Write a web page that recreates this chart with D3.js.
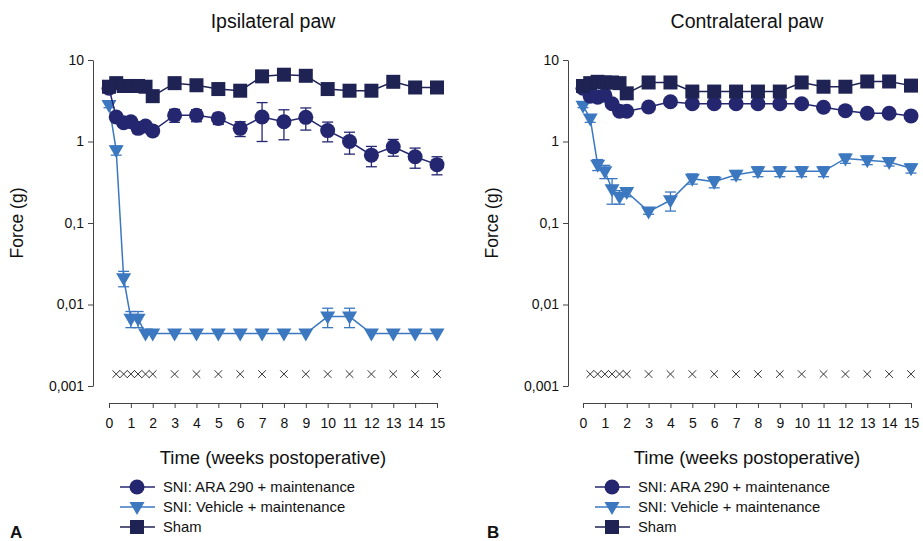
<!DOCTYPE html>
<html>
<head>
<meta charset="utf-8">
<script src="https://cdn.jsdelivr.net/npm/d3@7"></script>
<style>
    body { margin: 0; background: #fff; }
    svg { font-family: Arial, "Liberation Sans", sans-serif; }
</style>
</head>
<body>
<svg id="chart" width="923" height="541"></svg>
<script>
// Time points (weeks postoperative)
const weeks = [0, 0.33, 0.67, 1, 1.33, 1.67, 2, 3, 4, 5, 6, 7, 8, 9, 10, 11, 12, 13, 14, 15];
// weeks with significance marks (x)
const sigWeeks = [0.33, 0.67, 1, 1.33, 1.67, 2, 3, 4, 5, 6, 7, 8, 9, 10, 11, 12, 13, 14, 15];
const sigLevel = 0.0014;

const yTicks = [0.001, 0.01, 0.1, 1, 10];
const yTickLabels = ['0,001', '0,01', '0,1', '1', '10'];
const xTicks = [0, 1, 2, 3, 4, 5, 6, 7, 8, 9, 10, 11, 12, 13, 14, 15];

const seriesNames = ['SNI: ARA 290 + maintenance', 'SNI: Vehicle + maintenance', 'Sham'];

// Ipsilateral paw
const ipsiAra = [4.5, 2.0, 1.7, 1.75, 1.45, 1.55, 1.35, 2.1, 2.1, 1.92, 1.45, 2.0, 1.75, 1.98, 1.36, 1.0, 0.68, 0.86, 0.65, 0.52];
const ipsiAraSem = [0.3, 0.25, 0.2, 0.2, 0.2, 0.2, 0.15, 0.38, 0.35, 0.3, 0.3, 1.0, 0.7, 0.6, 0.37, 0.3, 0.19, 0.2, 0.18, 0.13];
const ipsiVeh = [2.8, 0.78, 0.021, 0.0067, 0.0067, 0.0044, 0.0044, 0.0044, 0.0044, 0.0044, 0.0044, 0.0044, 0.0044, 0.0044, 0.0071, 0.0071, 0.0044, 0.0044, 0.0044, 0.0044];
const ipsiVehSem = [0.2, 0.1, 0.0045, 0.0015, 0.0015, 0, 0, 0, 0, 0, 0, 0, 0, 0, 0.0019, 0.0019, 0, 0, 0, 0];
const ipsiSham = [4.7, 5.2, 4.8, 4.8, 4.8, 4.7, 3.6, 5.2, 4.9, 4.4, 4.2, 6.3, 6.6, 6.4, 4.4, 4.2, 4.2, 5.4, 4.6, 4.6];
const ipsiShamSem = [0.3, 0.3, 0.3, 0.3, 0.3, 0.3, 0.3, 0.3, 0.3, 0.3, 0.3, 0.3, 0.3, 0.3, 0.3, 0.3, 0.3, 0.3, 0.3, 0.3];

// Contralateral paw
const contraAra = [4.5, 3.6, 3.5, 3.7, 2.9, 2.35, 2.35, 2.65, 3.08, 2.9, 2.9, 2.9, 2.9, 2.9, 2.9, 2.63, 2.39, 2.22, 2.22, 2.06];
const contraAraSem = [0.2, 0.2, 0.2, 0.2, 0.2, 0.2, 0.2, 0.2, 0.2, 0.2, 0.2, 0.2, 0.2, 0.2, 0.2, 0.2, 0.2, 0.2, 0.2, 0.2];
const contraVeh = [2.75, 1.92, 0.52, 0.43, 0.26, 0.21, 0.24, 0.138, 0.19, 0.35, 0.32, 0.39, 0.43, 0.43, 0.43, 0.43, 0.62, 0.59, 0.56, 0.47];
const contraVehSem = [0.15, 0.2, 0.08, 0.08, 0.09, 0.04, 0.03, 0.01, 0.05, 0.05, 0.05, 0.05, 0.06, 0.06, 0.06, 0.06, 0.08, 0.07, 0.06, 0.06];
const contraSham = [4.8, 5.2, 5.4, 5.3, 5.3, 5.2, 3.9, 5.3, 5.3, 4.1, 4.1, 4.1, 4.1, 4.1, 5.3, 4.7, 4.7, 5.45, 5.45, 4.85];
const contraShamSem = [0.3, 0.3, 0.3, 0.3, 0.3, 0.3, 0.3, 0.3, 0.3, 0.3, 0.3, 0.3, 0.3, 0.3, 0.3, 0.3, 0.3, 0.3, 0.3, 0.3];

const colAra = '#242770';
const colVeh = '#3b78c0';
const colSham = '#1f2353';

const svg = d3.select('#chart');

const yScale = d3.scaleLog().domain([0.001, 10]).range([386, 60]);

function drawPanel(opt) {
    const g = svg.append('g');
    const x = d3.scaleLinear().domain([0, 15]).range(opt.xRange);

    // title
    g.append('text')
        .attr('x', (opt.xRange[0] + opt.xRange[1]) / 2)
        .attr('y', 28)
        .attr('text-anchor', 'middle')
        .attr('font-size', 19.5)
        .attr('fill', '#111')
        .text(opt.title);

    // y axis
    const yAxis = d3.axisLeft(yScale)
        .tickValues(yTicks)
        .tickFormat((d, i) => yTickLabels[i])
        .tickSize(5)
        .tickSizeOuter(0)
        .tickPadding(4);
    const ya = g.append('g').attr('transform', `translate(${opt.yAxisX},0)`).call(yAxis);
    ya.selectAll('text').attr('font-size', 14).attr('fill', '#111').attr('font-family', 'Arial, "Liberation Sans", sans-serif');
    ya.selectAll('path, line').attr('stroke', '#444');

    g.append('text')
        .attr('transform', `translate(${opt.yAxisX - 70},${yScale(0.1)}) rotate(-90)`)
        .attr('text-anchor', 'middle')
        .attr('font-size', 17.5)
        .attr('fill', '#111')
        .text('Force (g)');

    // x axis
    const xAxis = d3.axisBottom(x)
        .tickValues(xTicks)
        .tickSize(5)
        .tickSizeOuter(0)
        .tickPadding(10);
    const xa = g.append('g').attr('transform', 'translate(0,403)').call(xAxis);
    xa.selectAll('text').attr('font-size', 14).attr('fill', '#111').attr('font-family', 'Arial, "Liberation Sans", sans-serif');
    xa.selectAll('path, line').attr('stroke', '#444');

    g.append('text')
        .attr('x', (opt.xRange[0] + opt.xRange[1]) / 2)
        .attr('y', 464)
        .attr('text-anchor', 'middle')
        .attr('font-size', 18.5)
        .attr('fill', '#111')
        .text('Time (weeks postoperative)');

    // significance crosses
    g.selectAll('.sig')
        .data(sigWeeks)
        .enter().append('path')
        .attr('d', 'M-3.8,-3.8L3.8,3.8M-3.8,3.8L3.8,-3.8')
        .attr('transform', d => `translate(${x(d)},${yScale(sigLevel)})`)
        .attr('stroke', '#333')
        .attr('stroke-width', 1)
        .attr('fill', 'none');

    const series = [
        { vals: opt.veh, sem: opt.vehSem, color: colVeh, shape: 'tri' },
        { vals: opt.ara, sem: opt.araSem, color: colAra, shape: 'circle' },
        { vals: opt.sham, sem: opt.shamSem, color: colSham, shape: 'square' }
    ];

    const line = d3.line()
        .x(d => x(d[0]))
        .y(d => yScale(d[1]));

    series.forEach(s => {
        const pts = weeks.map((w, i) => [w, s.vals[i], s.sem[i]]);
        const sg = g.append('g');

        sg.append('path')
            .datum(pts)
            .attr('d', line)
            .attr('fill', 'none')
            .attr('stroke', s.color)
            .attr('stroke-width', 1.5);

        // error bars
        pts.filter(p => p[2] > 0).forEach(p => {
            const cx = x(p[0]);
            const top = yScale(p[1] + p[2]);
            const bot = yScale(Math.max(p[1] - p[2], 0.0011));
            sg.append('line').attr('x1', cx).attr('x2', cx).attr('y1', top).attr('y2', bot)
                .attr('stroke', s.color).attr('stroke-width', 1.3);
            [top, bot].forEach(yy => {
                sg.append('line').attr('x1', cx - 5.5).attr('x2', cx + 5.5).attr('y1', yy).attr('y2', yy)
                    .attr('stroke', s.color).attr('stroke-width', 1.3);
            });
        });

        drawMarkers(sg, pts.map(p => [x(p[0]), yScale(p[1])]), s.shape, s.color);
    });

    // legend
    const lg = g.append('g');
    const shapes = ['circle', 'tri', 'square'];
    const colors = [colAra, colVeh, colSham];
    seriesNames.forEach((name, i) => {
        const yy = 487 + i * 20;
        lg.append('line')
            .attr('x1', opt.legendX).attr('x2', opt.legendX + 35)
            .attr('y1', yy).attr('y2', yy)
            .attr('stroke', colors[i]).attr('stroke-width', 1.5);
        drawMarkers(lg, [[opt.legendX + 17, yy]], shapes[i], colors[i]);
        lg.append('text')
            .attr('x', opt.legendX + 43)
            .attr('y', yy + 5)
            .attr('font-size', 14.8)
            .attr('fill', '#111')
            .text(name);
    });

    // panel letter
    g.append('text')
        .attr('x', opt.letterX)
        .attr('y', 538)
        .attr('font-size', 17)
        .attr('font-weight', 'bold')
        .attr('fill', '#111')
        .text(opt.letter);
}

function drawMarkers(sel, pts, shape, color) {
    pts.forEach(p => {
        if (shape === 'circle') {
            sel.append('circle').attr('cx', p[0]).attr('cy', p[1]).attr('r', 7.5).attr('fill', color);
        } else if (shape === 'square') {
            sel.append('rect').attr('x', p[0] - 7).attr('y', p[1] - 7).attr('width', 14).attr('height', 14).attr('fill', color);
        } else {
            sel.append('path')
                .attr('d', `M${p[0] - 7.5},${p[1] - 5}L${p[0] + 7.5},${p[1] - 5}L${p[0]},${p[1] + 8}Z`)
                .attr('fill', color);
        }
    });
}

drawPanel({
    title: 'Ipsilateral paw', letter: 'A', letterX: 10,
    xRange: [109, 437], yAxisX: 93, legendX: 120,
    ara: ipsiAra, araSem: ipsiAraSem,
    veh: ipsiVeh, vehSem: ipsiVehSem,
    sham: ipsiSham, shamSem: ipsiShamSem
});

drawPanel({
    title: 'Contralateral paw', letter: 'B', letterX: 487,
    xRange: [583, 911], yAxisX: 568, legendX: 595,
    ara: contraAra, araSem: contraAraSem,
    veh: contraVeh, vehSem: contraVehSem,
    sham: contraSham, shamSem: contraShamSem
});
</script>
</body>
</html>
